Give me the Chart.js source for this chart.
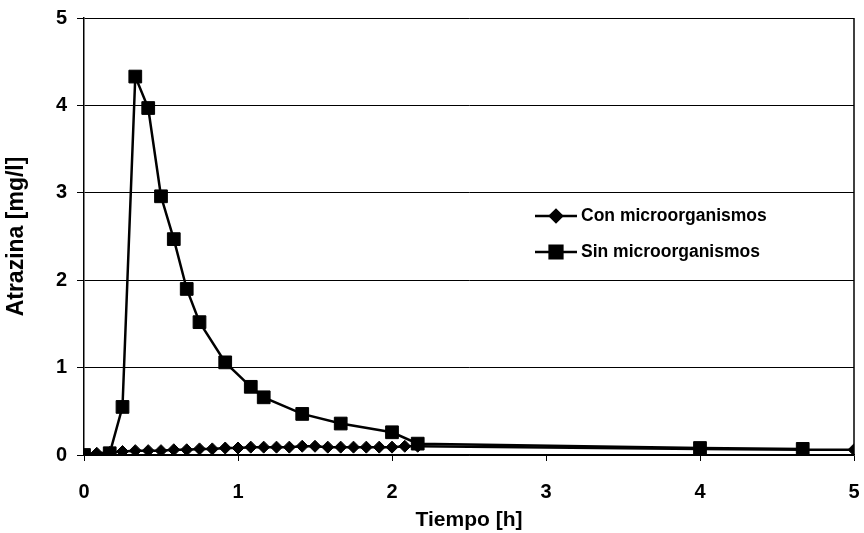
<!DOCTYPE html>
<html>
<head>
<meta charset="utf-8">
<script src="https://cdn.jsdelivr.net/npm/chart.js@4/dist/chart.umd.min.js"></script>
<style>
  html, body { margin: 0; padding: 0; background: #fff; }
  #wrap { width: 864px; height: 533px; }
</style>
</head>
<body>
<div id="wrap"><canvas id="myChart" width="864" height="533"></canvas></div>
<script>
// Con microorganismos (diamonds), tiempo en horas
const conTimes = [0, 0.083, 0.167, 0.25, 0.333, 0.417, 0.5, 0.583, 0.667, 0.75, 0.833, 0.917, 1.0,
    1.083, 1.167, 1.25, 1.333, 1.417, 1.5, 1.583, 1.667, 1.75, 1.833, 1.917, 2.0, 2.083, 2.167, 4.0, 4.667, 5.0];
const conValues = [0, 0.02, 0.03, 0.04, 0.05, 0.05, 0.05, 0.06, 0.06, 0.07, 0.07, 0.08, 0.08,
    0.09, 0.09, 0.09, 0.09, 0.10, 0.10, 0.09, 0.09, 0.09, 0.09, 0.09, 0.09, 0.10, 0.10, 0.07, 0.06, 0.06];

// Sin microorganismos (squares)
const sinTimes = [0, 0.167, 0.25, 0.333, 0.417, 0.5, 0.583, 0.667, 0.75, 0.917, 1.083, 1.167,
    1.417, 1.667, 2.0, 2.167, 4.0, 4.667];
const sinValues = [0, 0.02, 0.55, 4.33, 3.97, 2.96, 2.47, 1.90, 1.52, 1.06, 0.78, 0.66,
    0.47, 0.36, 0.26, 0.13, 0.08, 0.07];

const xTicks = [0, 1, 2, 3, 4, 5];
const yTicks = [0, 1, 2, 3, 4, 5];

const FONT = "'Liberation Sans', Arial, sans-serif";

const toPoints = (xs, ys) => xs.map((x, i) => ({ x: x, y: ys[i] }));

// legend drawn inside the plot, plus the right frame line
const innerLegend = {
    id: "innerLegend",
    afterDraw(chart) {
        const ctx = chart.ctx;
        const area = chart.chartArea;
        ctx.save();
        ctx.strokeStyle = "#000";
        ctx.lineWidth = 1.5;
        ctx.beginPath();
        ctx.moveTo(area.right, area.top);
        ctx.lineTo(area.right, area.bottom);
        ctx.stroke();

        const rows = [
            { ds: chart.data.datasets[0], y: 216 },
            { ds: chart.data.datasets[1], y: 252 },
        ];
        rows.forEach((row) => {
            ctx.strokeStyle = "#000";
            ctx.lineWidth = 2.5;
            ctx.beginPath();
            ctx.moveTo(535, row.y);
            ctx.lineTo(577, row.y);
            ctx.stroke();
            Chart.helpers.drawPoint(ctx, {
                pointStyle: row.ds.pointStyle,
                radius: row.ds.pointRadius,
                rotation: 0,
                borderWidth: 1,
            }, 556, row.y);
            ctx.fillStyle = "#000";
            ctx.fill();
            ctx.font = "bold 17.5px " + FONT;
            ctx.textBaseline = "middle";
            ctx.textAlign = "left";
            ctx.fillText(row.ds.label, 581, row.y);
        });
        ctx.restore();
    },
};

const ctx = document.getElementById("myChart").getContext("2d");

const myChart = new Chart(ctx, {
    type: "line",
    data: {
        datasets: [
            {
                label: "Con microorganismos",
                data: toPoints(conTimes, conValues),
                borderColor: "#000",
                backgroundColor: "#000",
                borderWidth: 2.5,
                pointStyle: "rectRot",
                pointRadius: 6,
                pointBorderWidth: 1,
                tension: 0,
                order: 1,
            },
            {
                label: "Sin microorganismos",
                data: toPoints(sinTimes, sinValues),
                borderColor: "#000",
                backgroundColor: "#000",
                borderWidth: 2.5,
                pointStyle: "rect",
                pointRadius: 9,
                pointBorderWidth: 1,
                tension: 0,
                order: 0,
            },
        ],
    },
    options: {
        responsive: false,
        animation: false,
        layout: { padding: { left: 0, right: 10, top: 18, bottom: 0 } },
        plugins: {
            legend: { display: false },
            tooltip: { enabled: false },
        },
        scales: {
            x: {
                type: "linear",
                min: 0,
                max: 5,
                afterFit: (scale) => {
                    scale.height = 78;
                    scale.paddingLeft = 0;
                    scale.paddingRight = 0;
                },
                afterBuildTicks: (scale) => { scale.ticks = xTicks.map((v) => ({ value: v })); },
                border: { display: true, color: "#000", width: 1.5 },
                grid: { drawOnChartArea: false, drawTicks: true, tickLength: 6, color: "#000" },
                ticks: {
                    color: "#000",
                    padding: 19,
                    maxRotation: 0,
                    font: { family: FONT, size: 20, weight: "bold" },
                },
                title: {
                    display: true,
                    text: "Tiempo [h]",
                    color: "#000",
                    padding: { top: 0, bottom: 0 },
                    font: { family: FONT, size: 21, weight: "bold" },
                },
            },
            y: {
                min: 0,
                max: 5,
                afterFit: (scale) => {
                    scale.width = 84;
                    scale.paddingTop = 0;
                    scale.paddingBottom = 0;
                },
                afterBuildTicks: (scale) => { scale.ticks = yTicks.map((v) => ({ value: v })); },
                border: { display: true, color: "#000", width: 1.5 },
                grid: { color: "#000", lineWidth: 1, drawTicks: true, tickLength: 7 },
                ticks: {
                    color: "#000",
                    padding: 10,
                    font: { family: FONT, size: 20, weight: "bold" },
                },
                title: {
                    display: true,
                    text: "Atrazina [mg/l]",
                    color: "#000",
                    padding: { top: 3, bottom: 0 },
                    font: { family: FONT, size: 23, weight: "bold" },
                },
            },
        },
    },
    plugins: [innerLegend],
});
</script>
</body>
</html>
